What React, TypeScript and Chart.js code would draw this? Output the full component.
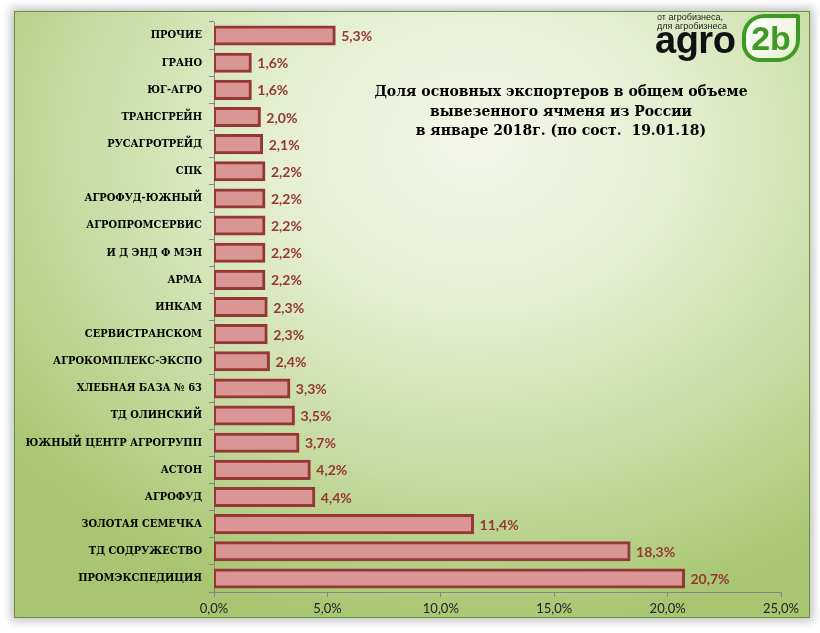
import React, { useEffect, useRef } from 'react';
import { Chart, registerables } from 'chart.js';
Chart.register(...registerables);

const categories = [
  'ПРОЧИЕ',
  'ГРАНО',
  'ЮГ-АГРО',
  'ТРАНСГРЕЙН',
  'РУСАГРОТРЕЙД',
  'СПК',
  'АГРОФУД-ЮЖНЫЙ',
  'АГРОПРОМСЕРВИС',
  'И Д ЭНД Ф МЭН',
  'АРМА',
  'ИНКАМ',
  'СЕРВИСТРАНСКОМ',
  'АГРОКОМПЛЕКС-ЭКСПО',
  'ХЛЕБНАЯ БАЗА № 63',
  'ТД ОЛИНСКИЙ',
  'ЮЖНЫЙ ЦЕНТР АГРОГРУПП',
  'АСТОН',
  'АГРОФУД',
  'ЗОЛОТАЯ СЕМЕЧКА',
  'ТД СОДРУЖЕСТВО',
  'ПРОМЭКСПЕДИЦИЯ',
];

const shares = [5.3, 1.6, 1.6, 2.0, 2.1, 2.2, 2.2, 2.2, 2.2, 2.2, 2.3, 2.3, 2.4, 3.3, 3.5, 3.7, 4.2, 4.4, 11.4, 18.3, 20.7];

const xMin = 0;
const xMax = 25;
const xStep = 5;

const titleLines = [
  'Доля основных экспортеров в общем объеме',
  'вывезенного ячменя из России',
  'в январе 2018г. (по сост.  19.01.18)',
];

const logoTagline = ['от агробизнеса,', 'для агробизнеса'];

const fmt = (v: number) => Number(v).toFixed(1).replace('.', ',') + '%';

export default function App() {
  const ref = useRef<HTMLCanvasElement>(null);

  useEffect(() => {
    const labelPlugin = {
      id: 'valueLabels',
      afterDatasetsDraw(chart: any) {
        const ctx = chart.ctx;
        const meta = chart.getDatasetMeta(0);
        ctx.save();
        ctx.font = 'bold 14px Lato';
        ctx.fillStyle = '#953735';
        ctx.textBaseline = 'middle';
        ctx.textAlign = 'left';
        meta.data.forEach((el: any, i: number) => {
          ctx.fillText(fmt(shares[i]), el.x + 7, el.y + 1);
        });
        ctx.restore();
      },
    };

    const chart = new Chart(ref.current as HTMLCanvasElement, {
      type: 'bar',
      data: {
        labels: categories,
        datasets: [
          {
            data: shares,
            backgroundColor: '#d99694',
            borderColor: '#953735',
            borderWidth: 3,
            borderSkipped: false,
            inflateAmount: 1.5,
            barPercentage: 0.63,
            categoryPercentage: 1,
          },
        ],
      },
      options: {
        indexAxis: 'y',
        animation: false,
        responsive: false,
        layout: { padding: { top: 22, right: 39, bottom: 0, left: 0 } },
        plugins: { legend: { display: false }, tooltip: { enabled: false } },
        scales: {
          x: {
            min: xMin,
            max: xMax,
            ticks: {
              stepSize: xStep,
              callback: (v: any) => fmt(v),
              color: '#222',
              font: { family: 'Lato', size: 13 },
              padding: 4,
            },
            grid: { drawOnChartArea: false, tickLength: 5, color: '#868686' },
            border: { color: '#868686' },
            afterFit: (s: any) => {
              s.height = 41;
            },
          },
          y: {
            ticks: {
              color: '#000',
              font: { family: '"DejaVu Serif Condensed", "Liberation Serif", serif', weight: 'bold', size: 11 },
              padding: 7,
            },
            grid: { drawOnChartArea: false, tickLength: 5, color: '#868686', offset: true },
            border: { color: '#868686' },
            afterFit: (s: any) => {
              s.width = 214;
            },
          },
        },
      },
      plugins: [labelPlugin],
    } as any);
    return () => chart.destroy();
  }, []);

  return (
    <div style={{ position: 'fixed', left: 0, top: 0, width: 820, height: 633, background: '#fff', overflow: 'hidden' }}>
      <div
        style={{
          position: 'absolute',
          left: 14,
          top: 11,
          width: 794,
          height: 605,
          border: '1px solid #6f8f3f',
          boxShadow: '0 0 9px 3px rgba(0,0,0,0.25)',
          background:
            'radial-gradient(ellipse 75% 80% at 58% 22%, #f4f7e8 0%, #e4eed0 35%, #c4da9e 70%, #a8c672 100%)',
        }}
      />
      <canvas ref={ref} width={820} height={633} style={{ position: 'absolute', left: 0, top: 0 }} />
      <div
        style={{
          position: 'absolute',
          left: 341,
          top: 82,
          width: 440,
          textAlign: 'center',
          fontFamily: 'DejaVu Serif',
          fontWeight: 'bold',
          fontSize: 14,
          lineHeight: '19.5px',
          color: '#000',
          whiteSpace: 'nowrap',
        }}
      >
        {titleLines.map((t, i) => (
          <div key={i} style={{ whiteSpace: 'pre' }}>{t}</div>
        ))}
      </div>
      <div
        style={{
          position: 'absolute',
          left: 657,
          top: 13,
          fontFamily: 'Liberation Sans',
          fontSize: 9,
          lineHeight: '9px',
          color: '#222',
        }}
      >
        {logoTagline.map((t, i) => (
          <div key={i}>{t}</div>
        ))}
      </div>
      <div
        style={{
          position: 'absolute',
          left: 655,
          top: 18,
          fontFamily: 'Liberation Sans',
          fontWeight: 'bold',
          fontSize: 38,
          lineHeight: '44px',
          color: '#111',
          letterSpacing: '-0.5px',
        }}
      >
        agro
      </div>
      <div
        style={{
          position: 'absolute',
          left: 742,
          top: 14,
          width: 50,
          height: 40,
          border: '4px solid #3f9a25',
          borderRadius: '22px 2px 22px 18px',
          background: 'linear-gradient(135deg, #ffffff 0%, #e4f2cc 100%)',
          textAlign: 'center',
          fontFamily: 'Liberation Sans',
          fontWeight: 'bold',
          fontSize: 34,
          lineHeight: '40px',
          color: '#3f9a25',
        }}
      >
        2b
      </div>
    </div>
  );
}
